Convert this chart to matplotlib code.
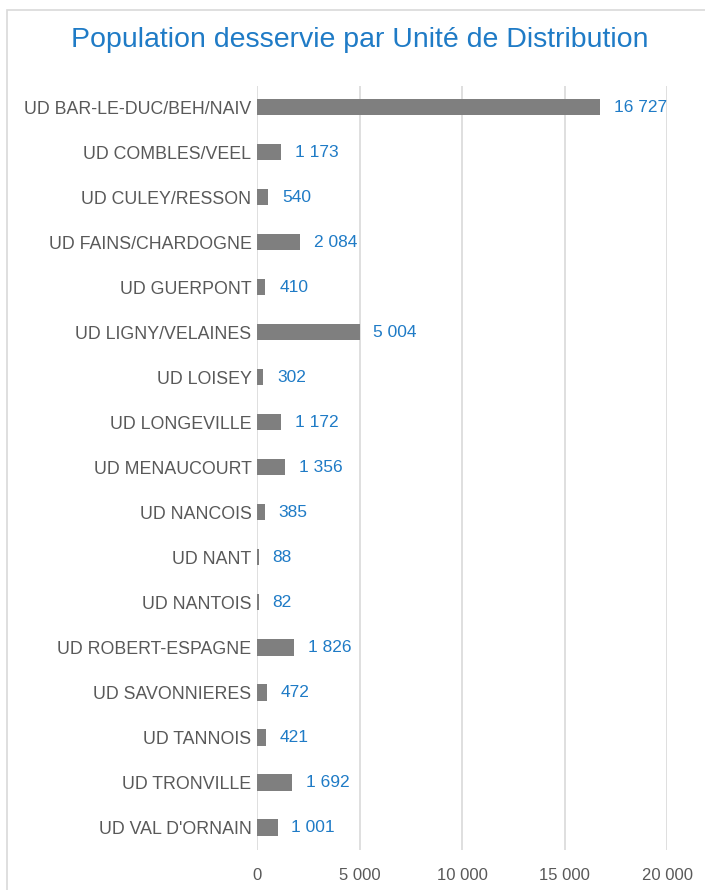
import matplotlib
matplotlib.use("Agg")
import matplotlib.pyplot as plt
from matplotlib.patches import Rectangle

categories = ["UD BAR-LE-DUC/BEH/NAIV", "UD COMBLES/VEEL", "UD CULEY/RESSON",
              "UD FAINS/CHARDOGNE", "UD GUERPONT", "UD LIGNY/VELAINES", "UD LOISEY",
              "UD LONGEVILLE", "UD MENAUCOURT", "UD NANCOIS", "UD NANT", "UD NANTOIS",
              "UD ROBERT-ESPAGNE", "UD SAVONNIERES", "UD TANNOIS", "UD TRONVILLE",
              "UD VAL D'ORNAIN"]
values = [16727, 1173, 540, 2084, 410, 5004, 302, 1172, 1356, 385, 88, 82,
          1826, 472, 421, 1692, 1001]
xticks = [0, 5000, 10000, 15000, 20000]
title = "Population desservie par Unité de Distribution"

plt.rcParams['font.family'] = ['Liberation Sans', 'DejaVu Sans']

def fmt(v):
    return f"{v:,}".replace(",", " ")

fig = plt.figure(figsize=(7.05, 8.9), dpi=100)
fig.patch.set_facecolor("white")
fig.patches.append(Rectangle((7/705, -0.05), 1.2, 880/890 + 0.05, transform=fig.transFigure,
                             fill=False, edgecolor="#d9d9d9", linewidth=1.2))

ax = fig.add_axes([257/705, 1-850/890, (667-257)/705, (850-86)/890])
y = list(range(len(categories)))
ax.barh(y, values, height=0.36, color="#7f7f7f", zorder=3)
for yi, v in zip(y, values):
    ax.annotate(fmt(v), (v, yi), xytext=(10, 0), textcoords="offset points",
                va="center", ha="left", color="#1f7bc6", fontsize=12.5)
ax.set_ylim(16.5, -0.47)
ax.set_xlim(0, 20000)
ax.set_xticks(xticks)
ax.set_xticklabels([fmt(t) for t in xticks], color="#595959", fontsize=12)
ax.set_yticks(y)
ax.set_yticklabels(categories, color="#595959", fontsize=12.8)
ax.tick_params(axis="both", length=0)
ax.tick_params(axis="y", pad=4)
ax.tick_params(axis="x", pad=13)
ax.grid(axis="x", color="#d9d9d9", linewidth=1.2, zorder=0)
for s in ax.spines.values():
    s.set_visible(False)

fig.text(360/705, 1-40/890, title, ha="center", va="center",
         color="#1f7bc6", fontsize=20.5)

fig.savefig("out.png", dpi=100)
